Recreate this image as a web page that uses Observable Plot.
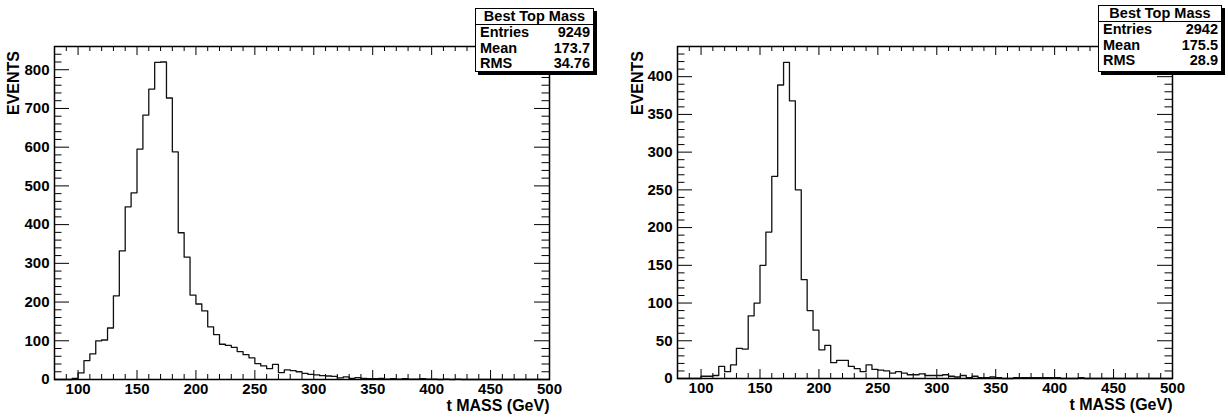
<!DOCTYPE html>
<html>
<head>
<meta charset="utf-8">
<script src="https://cdn.jsdelivr.net/npm/d3@7"></script>
<script src="https://cdn.jsdelivr.net/npm/@observablehq/plot@0.6"></script>
<style>
  html, body { margin: 0; padding: 0; background: #fff; }
  #wrap { position: relative; width: 1228px; height: 418px; overflow: hidden; background: #fff; }
  .panel { position: absolute; top: 0; }
  .stats {
    position: absolute; background: #fff; border: 1px solid #000;
    box-shadow: 3px 3px 0 #000; font-family: 'Liberation Sans', Arial, sans-serif;
    font-weight: bold; font-size: 14.5px; color: #000; box-sizing: border-box;
  }
  .stats .hd { text-align: center; border-bottom: 1px solid #000; line-height: 15px; height: 16px; box-sizing: border-box; }
  .stats .row { display: flex; justify-content: space-between; padding: 0 3px 0 4px; line-height: 15.7px; }
  .ylab {
    position: absolute; font-family: 'Liberation Sans', Arial, sans-serif; font-weight: bold;
    font-size: 16px; line-height: 16px; color: #000; white-space: nowrap;
    transform-origin: 0 0; transform: rotate(-90deg) translate(-100%, -50%);
  }
</style>
</head>
<body>
<div id="wrap"></div>
<script>
// ---- data ----
const binLow = 80, binHigh = 500, binWidth = 5;      // histogram binning (GeV)
const xTickLabels = [100, 150, 200, 250, 300, 350, 400, 450, 500];

// counts per 5 GeV bin, 80..500
const countsLeft = [
  0, 0, 0, 3, 17, 49, 66, 100, 102, 133,
  216, 332, 446, 482, 595, 683, 750, 819, 820, 727,
  588, 379, 316, 218, 195, 177, 136, 116, 91, 88,
  83, 72, 64, 56, 41, 35, 28, 39, 18, 25,
  23, 20, 16, 13, 12, 10, 9, 8, 4, 7,
  3, 5, 3, 2, 2, 3, 1, 2, 1, 2,
  1, 1, 2, 1, 1, 0, 1, 0, 1, 0,
  0, 0, 0, 0, 0, 0, 0, 0, 0, 0,
  0, 0, 0, 0
];
const countsRight = [
  0, 0, 0, 0, 3, 3, 4, 16, 9, 18,
  40, 39, 83, 100, 150, 194, 268, 389, 419, 368,
  250, 131, 90, 64, 38, 44, 21, 24, 24, 16,
  13, 9, 18, 12, 11, 10, 7, 9, 7, 5,
  5, 6, 4, 4, 4, 5, 3, 2, 4, 1,
  3, 1, 1, 2, 1, 0, 0, 1, 1, 1,
  1, 1, 1, 1, 1, 0, 0, 0, 1, 0,
  0, 0, 0, 0, 0, 0, 0, 0, 0, 0,
  0, 0, 0, 0
];
const yMaxLeft = 860, yMaxRight = 440;
const yTicksLeft = [0, 100, 200, 300, 400, 500, 600, 700, 800];
const yTicksRight = [0, 50, 100, 150, 200, 250, 300, 350, 400];
const statsTitle = "Best Top Mass";
const statsLeft = [["Entries", "9249"], ["Mean", "173.7"], ["RMS", "34.76"]];
const statsRight = [["Entries", "2942"], ["Mean", "175.5"], ["RMS", "28.9"]];
const xLabel = "t MASS (GeV)";
const yLabel = "EVENTS";

// ---- drawing ----
const edges = d3.range(binLow, binHigh + binWidth / 2, binWidth);

function panel({counts, yMax, yMajor, yMinorStep, ml, mr, mt, mb}) {
  const width = 614, height = 418;
  const W = width - ml - mr, H = height - mt - mb;
  const pts = edges.map((e, i) => ({x: e, y: counts[Math.min(i, counts.length - 1)]}));
  const xMinor = d3.range(binLow, binHigh + 1, 10).filter(v => v % 50 !== 0);
  const yMinor = d3.range(0, yMax, yMinorStep).filter(v => !yMajor.includes(v));
  const xt = 9, xtm = 5, yt = 15, ytm = 7.5;
  return Plot.plot({
    width, height,
    marginLeft: ml, marginRight: mr, marginTop: mt, marginBottom: mb,
    style: {fontFamily: "'Liberation Sans', Arial, sans-serif", fontSize: "15px", fontWeight: "bold", color: "#000", background: "transparent", overflow: "visible"},
    x: {domain: [binLow, binHigh]},
    y: {domain: [0, yMax]},
    marks: [
      // ticks inside the frame, all four sides
      Plot.ruleX(xTickLabels, {x: d => d, insetTop: H - xt, stroke: "#000"}),
      Plot.ruleX(xTickLabels, {x: d => d, insetBottom: H - xt, stroke: "#000"}),
      Plot.ruleX(xMinor, {x: d => d, insetTop: H - xtm, stroke: "#000"}),
      Plot.ruleX(xMinor, {x: d => d, insetBottom: H - xtm, stroke: "#000"}),
      Plot.ruleY(yMajor, {y: d => d, insetRight: W - yt, stroke: "#000"}),
      Plot.ruleY(yMajor, {y: d => d, insetLeft: W - yt, stroke: "#000"}),
      Plot.ruleY(yMinor, {y: d => d, insetRight: W - ytm, stroke: "#000"}),
      Plot.ruleY(yMinor, {y: d => d, insetLeft: W - ytm, stroke: "#000"}),
      Plot.line(pts, {x: "x", y: "y", curve: "step-after", stroke: "#111", strokeWidth: 1.3}),
      Plot.frame({stroke: "#000", strokeWidth: 1.5}),
      Plot.axisX({ticks: xTickLabels, tickSize: 0, tickPadding: 4, label: null, tickFormat: d => String(d), fill: "#000"}),
      Plot.axisY({ticks: yMajor, tickSize: 0, tickPadding: 5, label: null, tickFormat: d => String(d), fill: "#000"}),
      Plot.text([xLabel], {text: d => d, frameAnchor: "bottom-right", textAnchor: "end", lineAnchor: "top", dy: 20, fill: "#000", fontSize: 16, fontWeight: "bold"})
    ]
  });
}

function statsBox(rows, left, top, w, h) {
  const box = document.createElement("div");
  box.className = "stats";
  Object.assign(box.style, {left: left + "px", top: top + "px", width: w + "px", height: h + "px"});
  const hd = document.createElement("div");
  hd.className = "hd";
  hd.textContent = statsTitle;
  box.appendChild(hd);
  for (const [k, v] of rows) {
    const r = document.createElement("div");
    r.className = "row";
    const a = document.createElement("span"); a.textContent = k;
    const b = document.createElement("span"); b.textContent = v;
    r.append(a, b);
    box.appendChild(r);
  }
  return box;
}

function yTitle(left, top) {
  const d = document.createElement("div");
  d.className = "ylab";
  d.textContent = yLabel;
  Object.assign(d.style, {left: left + "px", top: top + "px"});
  return d;
}

const wrap = document.getElementById("wrap");
const p1 = panel({counts: countsLeft, yMax: yMaxLeft, yMajor: yTicksLeft, yMinorStep: 20, ml: 54, mr: 65, mt: 46, mb: 39});
const p2 = panel({counts: countsRight, yMax: yMaxRight, yMajor: yTicksRight, yMinorStep: 10, ml: 63, mr: 56, mt: 46, mb: 40});
const d1 = document.createElement("div"); d1.className = "panel"; d1.style.left = "0px"; d1.appendChild(p1);
const d2 = document.createElement("div"); d2.className = "panel"; d2.style.left = "614px"; d2.appendChild(p2);
wrap.append(d1, d2);
wrap.appendChild(yTitle(14, 51));
wrap.appendChild(yTitle(637.5, 51));
wrap.appendChild(statsBox(statsLeft, 475, 8, 119, 64));
wrap.appendChild(statsBox(statsRight, 1098, 5, 124, 67));
</script>
</body>
</html>
